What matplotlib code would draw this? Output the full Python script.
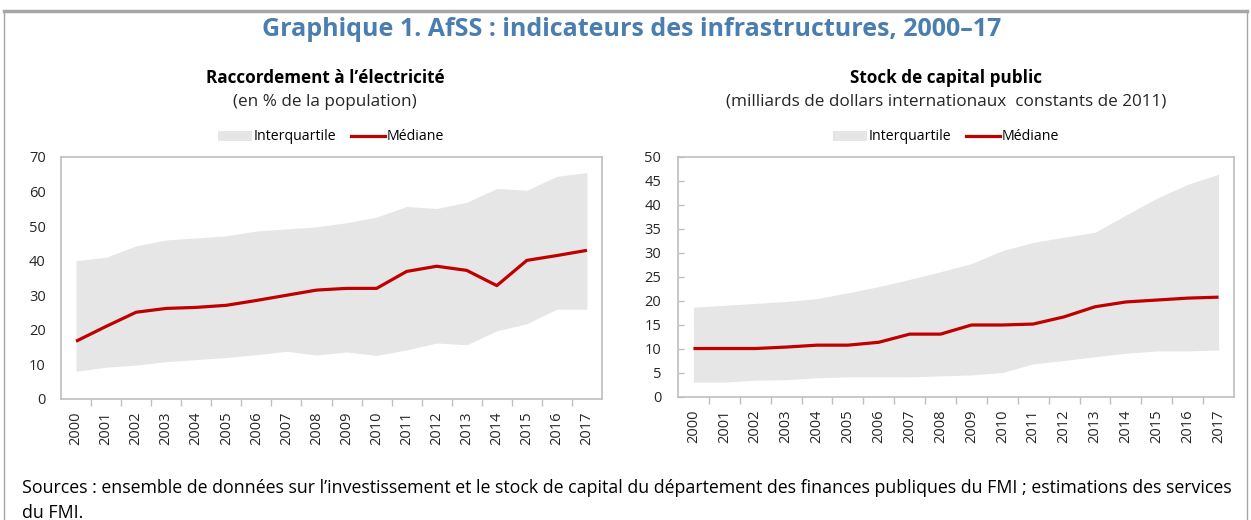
import matplotlib
matplotlib.use("Agg")
import matplotlib.pyplot as plt
from matplotlib.lines import Line2D
from matplotlib.patches import Patch
import numpy as np

plt.rcParams["font.family"] = ["Open Sans", "DejaVu Sans"]

years = [str(y) for y in range(2000, 2018)]

# Raccordement à l'électricité (% de la population)
elec_median = [16.7, 21.0, 25.1, 26.2, 26.5, 27.1, 28.5, 30.0, 31.5, 32.0,
               32.0, 36.9, 38.4, 37.2, 32.8, 40.1, 41.5, 43.0]
elec_q75 = [40.0, 41.0, 44.3, 46.0, 46.6, 47.2, 48.6, 49.2, 49.8, 51.0,
            52.6, 55.7, 55.1, 56.9, 60.9, 60.4, 64.4, 65.5]
elec_q25 = [8.0, 9.2, 9.8, 10.8, 11.4, 12.0, 12.8, 13.8, 12.7, 13.6,
            12.6, 14.2, 16.2, 15.7, 19.7, 21.8, 26.0, 26.0]

# Stock de capital public (milliards de dollars internationaux constants de 2011)
cap_median = [10.1, 10.1, 10.1, 10.4, 10.8, 10.8, 11.4, 13.1, 13.1, 15.0,
              15.0, 15.2, 16.7, 18.8, 19.8, 20.2, 20.6, 20.8]
cap_q75 = [18.7, 19.1, 19.5, 19.9, 20.5, 21.7, 23.0, 24.5, 26.1, 27.8,
           30.5, 32.2, 33.3, 34.3, 37.9, 41.4, 44.3, 46.4]
cap_q25 = [3.1, 3.1, 3.5, 3.6, 4.0, 4.2, 4.2, 4.2, 4.4, 4.6,
           5.1, 6.9, 7.6, 8.4, 9.1, 9.6, 9.6, 9.8]

RED = "#c00000"
FILL = "#e6e6e6"
SPINE = "#bfbfbf"
TXT = "#262626"

W, H = 1251, 520
fig = plt.figure(figsize=(W / 100, H / 100), dpi=100)


def box(x0, y0, x1, y1):
    # pixel box -> figure fraction rect
    return [x0 / W, 1 - y1 / H, (x1 - x0) / W, (y1 - y0) / H]


def panel(rect, q25, q75, med, ymax, ystep, title, subtitle, cx, leg_x, yticks_in):
    ax = fig.add_axes(rect)
    x = np.arange(len(years))
    ax.fill_between(x, q25, q75, color=FILL, lw=0, label="Interquartile")
    ax.plot(x, med, color=RED, lw=2.3, label="Médiane", solid_capstyle="butt")
    ax.set_xlim(-0.5, len(years) - 0.5)
    ax.set_ylim(0, ymax)
    ax.set_yticks(np.arange(0, ymax + 0.1, ystep))
    ax.set_xticks(x)
    ax.set_xticklabels(years, rotation=90)
    ax.set_xticks(np.arange(0.5, len(years) - 1, 1), minor=True)
    ax.tick_params(axis="x", which="major", length=0, pad=9, labelsize=10.5, colors=TXT)
    ax.tick_params(axis="x", which="minor", length=5, color=SPINE, width=1)
    if yticks_in:
        ax.tick_params(axis="y", direction="in", length=4, color=SPINE, width=1,
                       pad=12, labelsize=10.5, labelcolor=TXT)
    else:
        ax.tick_params(axis="y", length=0, pad=11, labelsize=10.5, labelcolor=TXT)
    for s in ax.spines.values():
        s.set_color(SPINE)
        s.set_linewidth(1.2)
    fig.text(cx / W, 1 - 78 / H, title, ha="center", va="center",
             fontsize=12.3, fontweight="bold", color="black")
    fig.text(cx / W, 1 - 102 / H, subtitle, ha="center", va="center",
             fontsize=12.3, color=TXT)
    handles = [Patch(facecolor=FILL, edgecolor="none"),
               Line2D([], [], color=RED, lw=2.3)]
    fig.legend(handles, ["Interquartile", "Médiane"], loc="center",
               bbox_to_anchor=(leg_x / W, 1 - 137 / H), ncol=2, frameon=False,
               fontsize=10.2, handlelength=2.4, handleheight=0.7,
               handletextpad=0.15, columnspacing=1.0, borderpad=0)
    return ax


panel(box(61, 157, 602, 399), elec_q25, elec_q75, elec_median, 70, 10,
      "Raccordement à l’électricité", "(en % de la population)", 325, 331, False)
panel(box(678, 157, 1234, 397), cap_q25, cap_q75, cap_median, 50, 5,
      "Stock de capital public",
      "(milliards de dollars internationaux  constants de 2011)", 946, 946, True)

fig.text(632 / W, 1 - 30 / H, "Graphique 1. AfSS : indicateurs des infrastructures, 2000–17",
         ha="center", va="center", fontsize=18, fontweight="bold", color="#4a7eb0")

fig.text(22 / W, 1 - 488 / H,
         "Sources : ensemble de données sur l’investissement et le stock de capital du "
         "département des finances publiques du FMI ; estimations des services",
         ha="left", va="center", fontsize=12.8, color="black")
fig.text(22 / W, 1 - 513 / H, "du FMI.", ha="left", va="center", fontsize=12.8, color="black")

# outer frame
fig.add_artist(Line2D([4 / W, 1247 / W], [1 - 11 / H, 1 - 11 / H], color="#a6a6a6", lw=2.5))
fig.add_artist(Line2D([4 / W, 4 / W], [0, 1 - 11 / H], color="#a6a6a6", lw=1))
fig.add_artist(Line2D([1247 / W, 1247 / W], [0, 1 - 11 / H], color="#a6a6a6", lw=1))

fig.savefig("out.png", dpi=100)
